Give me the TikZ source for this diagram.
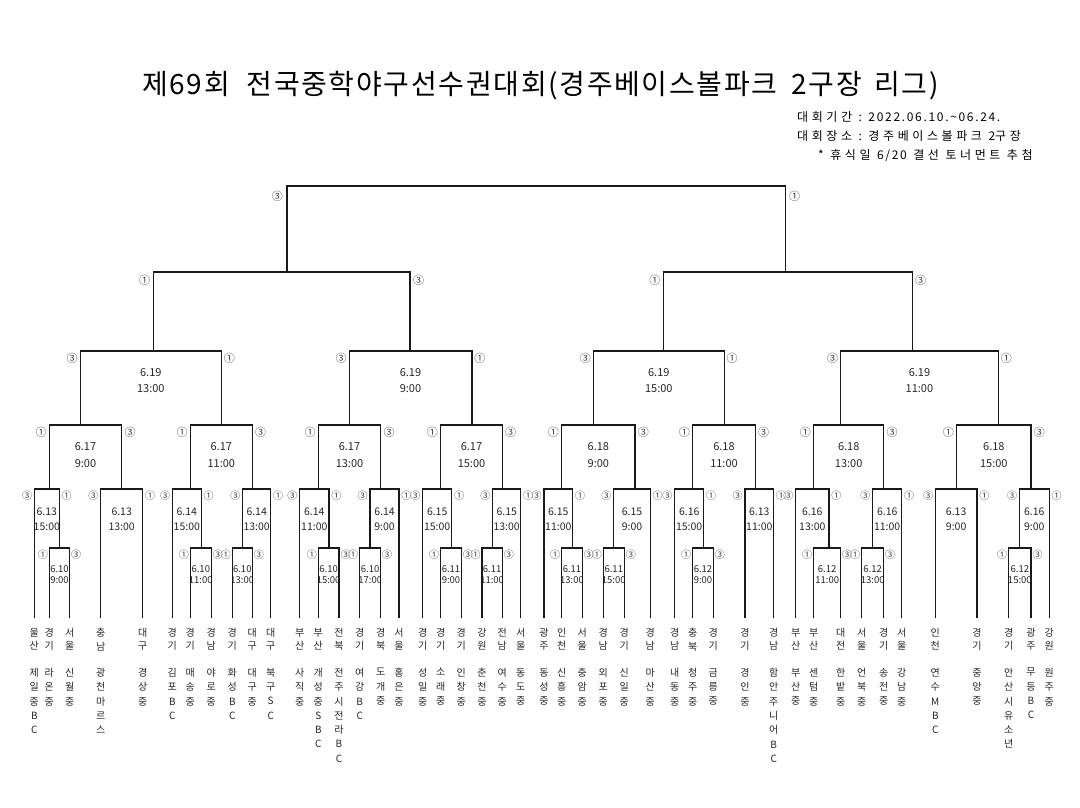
\documentclass[tikz,border=0pt]{standalone}
\usepackage{fontspec}
\setmainfont{Noto Sans CJK KR}
\newfontfamily\infofont[LetterSpace=14]{Noto Sans CJK KR}
\newfontfamily\infok[LetterSpace=30]{Noto Sans CJK KR}
\newfontfamily\titlefont[LetterSpace=6]{Noto Sans CJK KR}
\newcommand\lo{7}
\newcommand\ly{7}
\newcommand\ya{0}
\newcommand\yb{0}
\newcommand\dfs{10}
\newcommand\cfs{8}
% bracket: xL yL xR yR Ytop labL labR
\newcommand\mt[7]{%
  \draw[ln] (#1,#2) -- (#1,#5) -- (#3,#5) -- (#3,#4);
  \node[cn] at ({#1-\lo},{#5+\ly}) {#6};
  \node[cn] at ({#3+\lo},{#5+\ly}) {#7};}
% date text: xL xR line1 line2
\newcommand\dd[4]{%
  \begin{scope}
  \clip ({#1+0.8},{\ya-12}) rectangle ({#2-0.8},{\yb+12});
  \node[dt] at ({(#1+#2)/2},\ya) {#3};
  \node[dt] at ({(#1+#2)/2},\yb) {#4};
  \end{scope}}
% team: x region school
\newcommand\tm[3]{%
  \node[reg] at (#1,628) {#2};
  \node[sch] at (#1,668) {#3};}
\newcommand\K[1]{{\infok #1}}
\newcommand\W{\hspace{6.5pt}}
\begin{document}
\begin{tikzpicture}[x=1pt,y=-1pt,
  ln/.style={line width=1.4pt, black!90, line cap=rect},
  cn/.style={inner sep=0pt, font=\fontsize{\cfs}{\cfs}\selectfont, text=black!75},
  dt/.style={inner sep=0pt, font=\fontsize{\dfs}{\dfs}\selectfont, text=black!85},
  reg/.style={anchor=north, align=center, inner sep=0pt, text=black!85, font=\fontsize{10}{13.5}\selectfont},
  sch/.style={anchor=north, align=center, inner sep=0pt, text=black!85, font=\fontsize{10}{14.3}\selectfont},
  info/.style={anchor=west, inner sep=0pt, font=\infofont\fontsize{12}{12}\selectfont}]
\useasboundingbox (0,0) rectangle (1080,807);
\fill[white] (0,0) rectangle (1080,807);

% title and info
\node[anchor=west, inner sep=0pt, font=\titlefont\fontsize{28}{28}\selectfont] (title) at (142,86)
  {제69회\hspace{0.6em}전국중학야구선수권대회(경주베이스볼파크\hspace{0.5em}2구장\hspace{0.45em}리그)};
\node[info] (info1) at (797,117)
  {\K{대회기간}\W:\W2022.06.10.\textasciitilde06.24.};
\node[info] (info2) at (797,136)
  {\K{대회장소}\W:\W\K{경주베이스볼파크}\W2\K{구장}};
\node[info] (info3) at (818,156)
  {*\W\K{휴식일}\W6/20\W\K{결선}\W\K{토너먼트}\W\K{추첨}};

% ---------- level 1 (first games) ----------
\renewcommand\lo{6.5}\renewcommand\ly{6.5}\renewcommand\cfs{10}
\mt{49.3}{617}{69.7}{617}{548}{①}{③}
\mt{190.3}{617}{211.3}{617}{548}{①}{③}
\mt{232.3}{617}{252.3}{617}{548}{①}{③}
\mt{318.3}{617}{339}{617}{548}{①}{③}
\mt{359.7}{617}{380.7}{617}{548}{①}{③}
\mt{440.7}{617}{461.3}{617}{548}{①}{③}
\mt{482}{617}{502.3}{617}{548}{①}{③}
\mt{561.7}{617}{582.3}{617}{548}{①}{③}
\mt{603.3}{617}{624.3}{617}{548}{①}{③}
\mt{692.7}{617}{713.3}{617}{548}{①}{③}
\mt{813.7}{617}{840.7}{617}{548}{①}{③}
\mt{861.7}{617}{883.7}{617}{548}{①}{③}
\mt{1008.7}{617}{1031}{617}{548}{①}{③}
\renewcommand\ya{569}\renewcommand\yb{580}\renewcommand\dfs{9.5}
\dd{49.3}{69.7}{6.10}{9:00}
\dd{190.3}{211.3}{6.10}{11:00}
\dd{232.3}{252.3}{6.10}{13:00}
\dd{318.3}{339}{6.10}{15:00}
\dd{359.7}{380.7}{6.10}{17:00}
\dd{440.7}{461.3}{6.11}{9:00}
\dd{482}{502.3}{6.11}{11:00}
\dd{561.7}{582.3}{6.11}{13:00}
\dd{603.3}{624.3}{6.11}{15:00}
\dd{692.7}{713.3}{6.12}{9:00}
\dd{813.7}{840.7}{6.12}{11:00}
\dd{861.7}{883.7}{6.12}{13:00}
\dd{1008.7}{1031}{6.12}{15:00}

% ---------- level 2 ----------
\renewcommand\lo{7.3}\renewcommand\ly{7}\renewcommand\cfs{10}
\mt{34.3}{617}{59.3}{548}{489}{③}{①}
\mt{100.7}{617}{142.7}{617}{489}{③}{①}
\mt{172.3}{617}{201.3}{548}{489}{③}{①}
\mt{242.7}{548}{270.7}{617}{489}{③}{①}
\mt{299.7}{617}{329}{548}{489}{③}{①}
\mt{370}{548}{399}{617}{489}{③}{①}
\mt{422.7}{617}{451.7}{548}{489}{③}{①}
\mt{492.7}{548}{520.7}{617}{489}{③}{①}
\mt{544}{617}{572.7}{548}{489}{③}{①}
\mt{613.7}{548}{650.3}{617}{489}{③}{①}
\mt{674.7}{617}{703.7}{548}{489}{③}{①}
\mt{745}{617}{773.7}{617}{489}{③}{①}
\mt{795.7}{617}{829}{548}{489}{③}{①}
\mt{872.7}{548}{901.7}{617}{489}{③}{①}
\mt{935.3}{617}{977}{617}{489}{③}{①}
\mt{1019.3}{548}{1049.3}{617}{489}{③}{①}
\renewcommand\ya{512}\renewcommand\yb{527}\renewcommand\dfs{10.5}
\dd{34.3}{59.3}{6.13}{15:00}
\dd{100.7}{142.7}{6.13}{13:00}
\dd{172.3}{201.3}{6.14}{15:00}
\dd{242.7}{270.7}{6.14}{13:00}
\dd{299.7}{329}{6.14}{11:00}
\dd{370}{399}{6.14}{9:00}
\dd{422.7}{451.7}{6.15}{15:00}
\dd{492.7}{520.7}{6.15}{13:00}
\dd{544}{572.7}{6.15}{11:00}
\dd{613.7}{650.3}{6.15}{9:00}
\dd{674.7}{703.7}{6.16}{15:00}
\dd{745}{773.7}{6.13}{11:00}
\dd{795.7}{829}{6.16}{13:00}
\dd{872.7}{901.7}{6.16}{11:00}
\dd{935.3}{977}{6.13}{9:00}
\dd{1019.3}{1049.3}{6.16}{9:00}

% ---------- level 3 ----------
\renewcommand\lo{8.3}\renewcommand\ly{7.5}\renewcommand\cfs{11}
\mt{49.3}{489}{121.7}{489}{425}{①}{③}
\mt{190.3}{489}{252.3}{489}{425}{①}{③}
\mt{318.3}{489}{380.7}{489}{425}{①}{③}
\mt{440.7}{489}{502.3}{489}{425}{①}{③}
\mt{561.7}{489}{635}{489}{425}{①}{③}
\mt{692.7}{489}{755.3}{489}{425}{①}{③}
\mt{813.7}{489}{883.7}{489}{425}{①}{③}
\mt{956.7}{489}{1031}{489}{425}{①}{③}
\renewcommand\ya{447}\renewcommand\yb{464}\renewcommand\dfs{11}
\dd{49.3}{121.7}{6.17}{9:00}
\dd{190.3}{252.3}{6.17}{11:00}
\dd{318.3}{380.7}{6.17}{13:00}
\dd{440.7}{502.3}{6.17}{15:00}
\dd{561.7}{635}{6.18}{9:00}
\dd{692.7}{755.3}{6.18}{11:00}
\dd{813.7}{883.7}{6.18}{13:00}
\dd{956.7}{1031}{6.18}{15:00}

% ---------- level 4 ----------
\renewcommand\lo{8}\renewcommand\ly{7.5}
\mt{80.2}{425}{221.4}{425}{351}{③}{①}
\mt{349.2}{425}{471.8}{425}{351}{③}{①}
\mt{593.4}{425}{724.2}{425}{351}{③}{①}
\mt{840.6}{425}{998.3}{425}{351}{③}{①}
\renewcommand\ya{373}\renewcommand\yb{389}
\dd{80.2}{221.4}{6.19}{13:00}
\dd{349.2}{471.8}{6.19}{9:00}
\dd{593.4}{724.2}{6.19}{15:00}
\dd{840.6}{998.3}{6.19}{11:00}

% ---------- level 5 and final ----------
\renewcommand\lo{8.5}\renewcommand\ly{8}
\mt{153.2}{351}{410.1}{351}{272}{①}{③}
\mt{663.3}{351}{912.2}{351}{272}{①}{③}
\renewcommand\lo{9.5}\renewcommand\ly{10}
\mt{286.8}{272}{785.2}{272}{186}{③}{①}

% ---------- teams ----------
\tm{34.3}{울\\산}{제\\일\\중\\B\\C}
\tm{49.3}{경\\기}{라\\온\\중}
\tm{69.7}{서\\울}{신\\월\\중}
\tm{100.7}{충\\남}{광\\천\\마\\르\\스}
\tm{142.7}{대\\구}{경\\상\\중}
\tm{172.3}{경\\기}{김\\포\\B\\C}
\tm{190.3}{경\\기}{매\\송\\중}
\tm{211.3}{경\\남}{야\\로\\중}
\tm{232.3}{경\\기}{화\\성\\B\\C}
\tm{252.3}{대\\구}{대\\구\\중}
\tm{270.7}{대\\구}{북\\구\\S\\C}
\tm{299.7}{부\\산}{사\\직\\중}
\tm{318.3}{부\\산}{개\\성\\중\\S\\B\\C}
\tm{339}{전\\북}{전\\주\\시\\전\\라\\B\\C}
\tm{359.7}{경\\기}{여\\강\\B\\C}
\tm{380.7}{경\\북}{도\\개\\중}
\tm{399}{서\\울}{홍\\은\\중}
\tm{422.7}{경\\기}{성\\일\\중}
\tm{440.7}{경\\기}{소\\래\\중}
\tm{461.3}{경\\기}{인\\창\\중}
\tm{482}{강\\원}{춘\\천\\중}
\tm{502.3}{전\\남}{여\\수\\중}
\tm{520.7}{서\\울}{동\\도\\중}
\tm{544}{광\\주}{동\\성\\중}
\tm{561.7}{인\\천}{신\\흥\\중}
\tm{582.3}{서\\울}{충\\암\\중}
\tm{603.3}{경\\남}{외\\포\\중}
\tm{624.3}{경\\기}{신\\일\\중}
\tm{650.3}{경\\남}{마\\산\\중}
\tm{674.7}{경\\남}{내\\동\\중}
\tm{692.7}{충\\북}{청\\주\\중}
\tm{713.3}{경\\기}{금\\릉\\중}
\tm{745}{경\\기}{경\\인\\중}
\tm{773.7}{경\\남}{함\\안\\주\\니\\어\\B\\C}
\tm{795.7}{부\\산}{부\\산\\중}
\tm{813.7}{부\\산}{센\\텀\\중}
\tm{840.7}{대\\전}{한\\밭\\중}
\tm{861.7}{서\\울}{언\\북\\중}
\tm{883.7}{경\\기}{송\\전\\중}
\tm{901.7}{서\\울}{강\\남\\중}
\tm{935.3}{인\\천}{연\\수\\M\\B\\C}
\tm{977}{경\\기}{중\\앙\\중}
\tm{1008.7}{경\\기}{안\\산\\시\\유\\소\\년}
\tm{1031}{광\\주}{무\\등\\B\\C}
\tm{1049.3}{강\\원}{원\\주\\중}
\end{tikzpicture}
\end{document}
